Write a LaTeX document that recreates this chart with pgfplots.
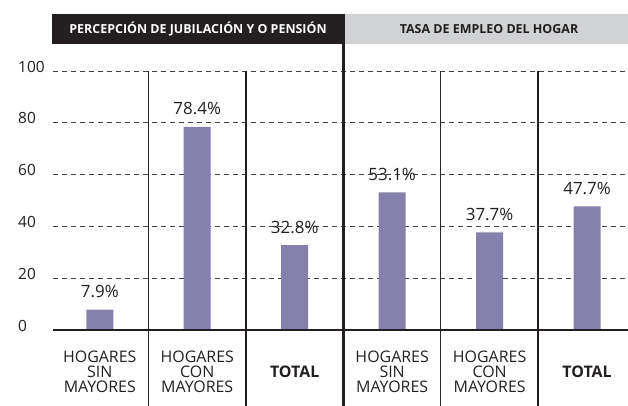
\documentclass[border=0pt]{standalone}
\usepackage{pgfplots}
\pgfplotsset{compat=1.18}
\usepackage{fontspec}
\setmainfont{Open Sans}
\pgfkeys{/pgf/number format/assume math mode=true}
\definecolor{barc}{RGB}{133,129,172}
\definecolor{hdrdark}{RGB}{35,31,32}
\definecolor{hdrgrey}{RGB}{209,210,212}
\definecolor{txt}{RGB}{35,31,32}
\begin{document}
\begin{tikzpicture}
\useasboundingbox (-53bp,-76bp) rectangle (575bp,330bp);
\begin{axis}[
  at={(0,0)}, anchor=south west,
  scale only axis, width=575bp, height=259bp,
  xmin=-0.48, xmax=5.42, ymin=0, ymax=100,
  clip=false,
  /pgf/number format/assume math mode=true,
  axis line style={draw=none},
  major tick length=0pt,
  ytick={0,20,40,60,80,100},
  ymajorgrids,
  grid style={dash pattern=on 5bp off 4bp, black!75, line width=0.7bp},
  yticklabel style={anchor=west, inner sep=0pt, xshift=-35bp, yshift=4.5bp,
    font=\fontsize{15.5}{16}\selectfont, text=txt},
  xtick=data,
  xticklabels={{HOGARES\\SIN\\MAYORES},{HOGARES\\CON\\MAYORES},{\textbf{TOTAL}},{HOGARES\\SIN\\MAYORES},{HOGARES\\CON\\MAYORES},{\textbf{TOTAL}}},
  xticklabel style={anchor=center, inner sep=0pt, yshift=-42bp, align=center,
    font=\fontsize{16}{15.3}\selectfont, text=txt},
  ybar, bar width=27bp,
  nodes near coords={\pgfmathprintnumber[fixed,precision=1,fixed zerofill,assume math mode=true]{\pgfplotspointmeta}\%},
  every node near coord/.append style={anchor=base, yshift=12bp,
    font=\fontsize{17}{17}\selectfont, text=txt},
]
\addplot[fill=barc, draw=none] coordinates {(0,7.9) (1,78.4) (2,32.8) (3,53.1) (4,37.7) (5,47.7)};
\draw[black!85, line width=1bp] (axis cs:0.5,100) -- (axis cs:0.5,-30);
\draw[black!85, line width=1bp] (axis cs:3.5,100) -- (axis cs:3.5,-30);
\draw[txt, line width=2bp] (axis cs:1.5,100) -- (axis cs:1.5,-30);
\draw[txt, line width=2bp] (axis cs:4.5,100) -- (axis cs:4.5,-30);
\draw[txt, line width=2.3bp] (axis cs:-0.48,0) -- (axis cs:5.42,0);
\end{axis}
\fill[hdrdark] (-0.7bp,286bp) rectangle (290.4bp,316bp);
\fill[hdrgrey] (290.4bp,286bp) rectangle (575bp,316bp);
\node[text=white, font=\fontsize{12.5}{14}\selectfont\bfseries] at (145bp,301bp) {PERCEPCIÓN DE JUBILACIÓN Y O PENSIÓN};
\node[text=txt, font=\fontsize{12.5}{14}\selectfont\bfseries] at (436bp,301bp) {TASA DE EMPLEO DEL HOGAR};
\draw[txt, line width=2.3bp] (290.4bp,316bp) -- (290.4bp,-80bp);
\end{tikzpicture}
\end{document}
